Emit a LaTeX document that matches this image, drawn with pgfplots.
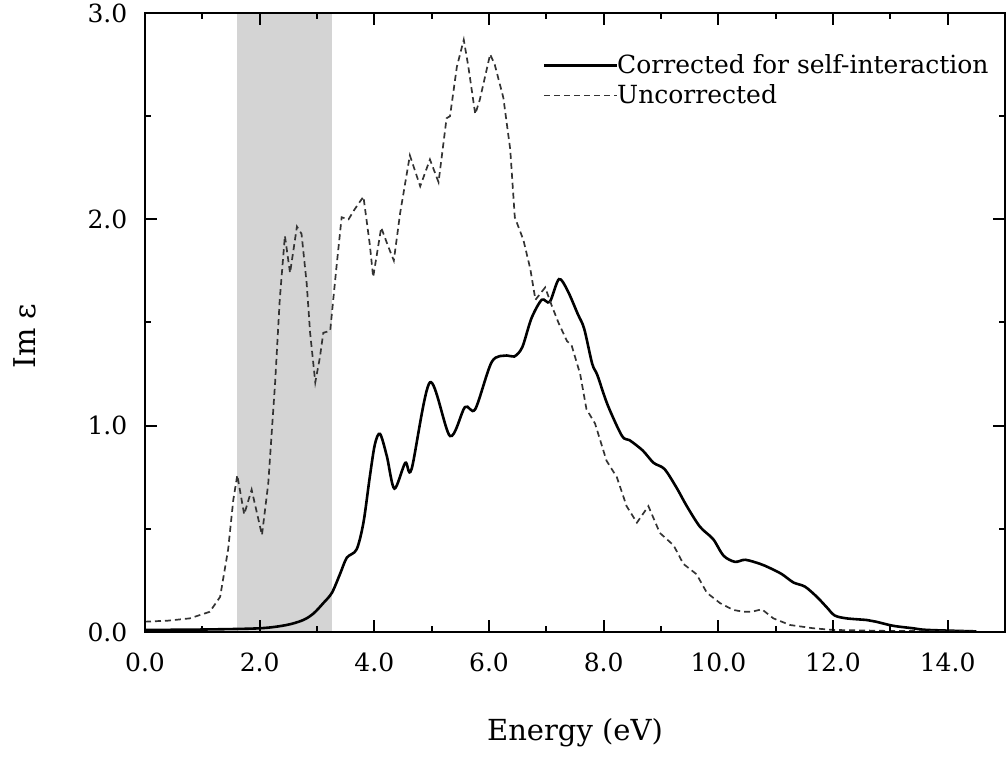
\documentclass[border=0pt]{standalone}
\usepackage{fontspec}
\setmainfont{DejaVu Serif}
\usepackage{pgfplots}
\pgfplotsset{compat=1.18}
\definecolor{bandgray}{HTML}{D4D4D4}
\definecolor{dashgray}{HTML}{333333}
\begin{document}
\fontsize{12.5}{15}\selectfont
\begin{tikzpicture}
\begin{axis}[name=ax, scale only axis, width=430pt, height=309.5pt,
  xmin=0, xmax=15, ymin=0, ymax=3,
  xtick={0,2,...,14}, ytick={0,1,2,3},
  minor x tick num=1, minor y tick num=1,
  tick align=inside, major tick length=6pt, minor tick length=3pt,
  every tick/.style={black, line width=1pt},
  axis line style={line width=1.4pt},
  axis on top=true,
  /pgf/number format/fixed, /pgf/number format/fixed zerofill,
  /pgf/number format/precision=1, /pgf/number format/assume math mode=true,
  xticklabel style={yshift=-6pt},
  yticklabel style={xshift=-4.5pt},
  xlabel={Energy (eV)}, ylabel={Im ε},
  every axis x label/.style={at={(axis description cs:0.5,-0.163)}, anchor=center, font=\fontsize{14.5}{17}\selectfont},
  every axis y label/.style={at={(axis description cs:-0.1395,0.478)}, rotate=90, anchor=center, font=\fontsize{15}{18}\selectfont},
  legend style={draw=none, fill=none, inner sep=0pt, at={(axis description cs:0.9855,0.940)}, anchor=north east, row sep=0pt, column sep=-2.5pt, nodes={inner sep=1.8pt}},
  legend cell align=left,
  legend image code/.code={\draw[#1] (0pt,0pt) -- (36.5pt,0pt);},
]
\addplot[fill=bandgray, draw=none, forget plot] coordinates {(1.6,0) (3.27,0) (3.27,3) (1.6,3)} -- cycle;
\addplot[black, line width=1.3pt, smooth, tension=0.5] coordinates {
(0.0,0.01) (1.0,0.012) (2.0,0.018) (2.47,0.034) (2.76,0.058) (2.94,0.09) (3.11,0.14) (3.26,0.19)
(3.40,0.28) (3.52,0.36) (3.69,0.40) (3.81,0.53) (3.92,0.75) (4.01,0.91) (4.10,0.96) (4.22,0.85)
(4.35,0.695) (4.54,0.82) (4.65,0.79) (4.97,1.21) (5.32,0.95) (5.58,1.09) (5.76,1.08) (6.05,1.31)
(6.31,1.34) (6.44,1.335) (6.58,1.38) (6.74,1.52) (6.92,1.61) (7.06,1.60) (7.22,1.71) (7.37,1.655)
(7.55,1.54) (7.66,1.47) (7.80,1.30) (7.89,1.245) (8.07,1.10) (8.32,0.95) (8.45,0.93) (8.68,0.88)
(8.87,0.82) (9.06,0.79) (9.27,0.70) (9.45,0.61) (9.68,0.51) (9.91,0.45) (10.09,0.37) (10.29,0.34)
(10.47,0.35) (10.73,0.33) (10.90,0.31) (11.11,0.28) (11.31,0.24) (11.51,0.22) (11.72,0.17) (11.89,0.12)
(12.03,0.08) (12.24,0.066) (12.59,0.058) (12.75,0.05) (13.05,0.03) (13.4,0.018) (13.65,0.01) (14.5,0.003)
};
\addlegendentry{Corrected for self-interaction}
\addplot[dashgray, line width=0.85pt, dash pattern=on 3pt off 2pt] coordinates {
(0.0,0.05) (0.4,0.055) (0.78,0.066) (1.13,0.098) (1.31,0.17) (1.45,0.40) (1.54,0.64) (1.61,0.76)
(1.73,0.57) (1.86,0.69) (2.04,0.47) (2.15,0.72) (2.27,1.21) (2.35,1.61) (2.44,1.92) (2.53,1.74)
(2.65,1.965) (2.73,1.93) (2.82,1.69) (2.88,1.45) (2.97,1.21) (3.05,1.33) (3.11,1.45) (3.23,1.46)
(3.34,1.77) (3.43,2.01) (3.55,2.00) (3.66,2.05) (3.81,2.11) (3.92,1.88) (3.98,1.72) (4.12,1.96)
(4.24,1.87) (4.34,1.80) (4.45,2.03) (4.62,2.31) (4.80,2.16) (4.97,2.29) (5.12,2.18) (5.26,2.49)
(5.32,2.50) (5.44,2.74) (5.56,2.87) (5.64,2.74) (5.76,2.51) (5.84,2.58) (6.02,2.80) (6.10,2.75)
(6.25,2.59) (6.37,2.34) (6.45,2.01) (6.60,1.90) (6.72,1.76) (6.81,1.61) (6.98,1.67) (7.09,1.585)
(7.21,1.50) (7.36,1.41) (7.44,1.39) (7.59,1.25) (7.70,1.08) (7.85,1.01) (8.05,0.83) (8.23,0.75)
(8.40,0.61) (8.58,0.53) (8.78,0.61) (8.98,0.48) (9.22,0.42) (9.39,0.33) (9.62,0.28) (9.80,0.19)
(10.03,0.14) (10.26,0.107) (10.44,0.098) (10.58,0.098) (10.76,0.11) (10.96,0.066) (11.25,0.034) (11.66,0.018)
(12.0,0.01) (13.0,0.005) (14.5,0.003)
};
\addlegendentry{Uncorrected}
\end{axis}
\pgfresetboundingbox
\path ([xshift=-72.5pt,yshift=-64pt]ax.south west) rectangle ([xshift=0.5pt,yshift=6.5pt]ax.north east);
\end{tikzpicture}
\end{document}
